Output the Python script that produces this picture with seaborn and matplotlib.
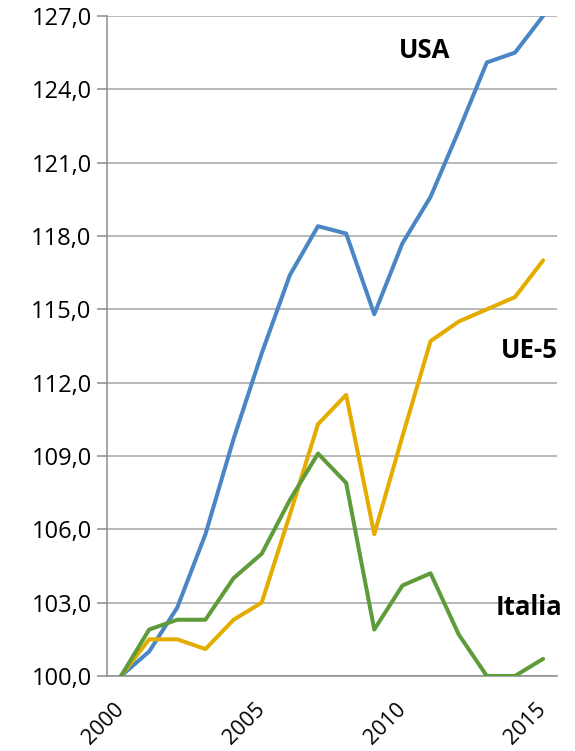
import pandas as pd
import matplotlib.pyplot as plt
import seaborn as sns
from matplotlib.ticker import FuncFormatter

# dati
anni = list(range(2000, 2016))
usa = [100.0, 101.0, 102.8, 105.8, 109.7, 113.2, 116.4, 118.4,
       118.1, 114.8, 117.7, 119.6, 122.3, 125.1, 125.5, 127.0]
ue5 = [100.0, 101.5, 101.5, 101.1, 102.3, 103.0, 106.6, 110.3,
       111.5, 105.8, 109.8, 113.7, 114.5, 115.0, 115.5, 117.0]
italia = [100.0, 101.9, 102.3, 102.3, 104.0, 105.0, 107.2, 109.1,
          107.9, 101.9, 103.7, 104.2, 101.7, 100.0, 100.0, 100.7]
serie = ['USA', 'UE-5', 'Italia']
etichette_x = [2000, 2005, 2010, 2015]
etichette_y = [100, 103, 106, 109, 112, 115, 118, 121, 124, 127]

df = pd.DataFrame({'Anno': anni * 3,
                   'Valore': usa + ue5 + italia,
                   'Paese': [s for s in serie for _ in anni]})

sns.set_style("white")
plt.rcParams['font.family'] = ['Open Sans', 'DejaVu Sans']
plt.rcParams['text.color'] = 'black'
plt.rcParams['xtick.color'] = 'black'
plt.rcParams['ytick.color'] = 'black'

colori = {'USA': '#4A86C4', 'UE-5': '#E5AC00', 'Italia': '#5E9B3A'}

fig = plt.figure(figsize=(5.75, 7.51), dpi=100)
ax = fig.add_axes([0.186, 0.0999, 0.783, 0.8788])

sns.lineplot(data=df, x='Anno', y='Valore', hue='Paese', palette=colori,
             linewidth=2.9, legend=False, ax=ax, zorder=3)

ax.set_xlim(1999.5, 2015.5)
ax.set_ylim(100, 127)
ax.set_yticks(etichette_y)
ax.yaxis.set_major_formatter(FuncFormatter(lambda v, p: f"{v:.1f}".replace('.', ',')))
ax.grid(axis='y', color='#A6A6A6', linewidth=1.1, zorder=0)

ax.set_xticks(etichette_x)
ax.set_xticklabels([str(a) for a in etichette_x], rotation=45, ha='right',
                   va='center', rotation_mode='anchor', fontsize=15.5)
ax.set_xticks([a - 0.5 for a in anni] + [2015.5], minor=True)
ax.tick_params(axis='x', which='major', length=0, pad=22)
ax.tick_params(axis='x', which='minor', length=7, width=1.1, color='#8C8C8C')
ax.tick_params(axis='y', length=7, width=1.1, color='#8C8C8C', labelcolor='black',
               labelsize=17, pad=4, left=True, direction='out')

for s in ['top', 'right']:
    ax.spines[s].set_visible(False)
for s in ['left', 'bottom']:
    ax.spines[s].set_color('#8C8C8C')
    ax.spines[s].set_linewidth(1.1)

ax.set_xlabel('')
ax.set_ylabel('')

ax.text(2010.8, 125.6, 'USA', fontsize=18.5, fontweight='bold', ha='center', va='center')
ax.text(2014.5, 113.3, 'UE-5', fontsize=18.5, fontweight='bold', ha='center', va='center')
ax.text(2014.5, 102.8, 'Italia', fontsize=18.5, fontweight='bold', ha='center', va='center')

fig.savefig('out.png', dpi=100)
